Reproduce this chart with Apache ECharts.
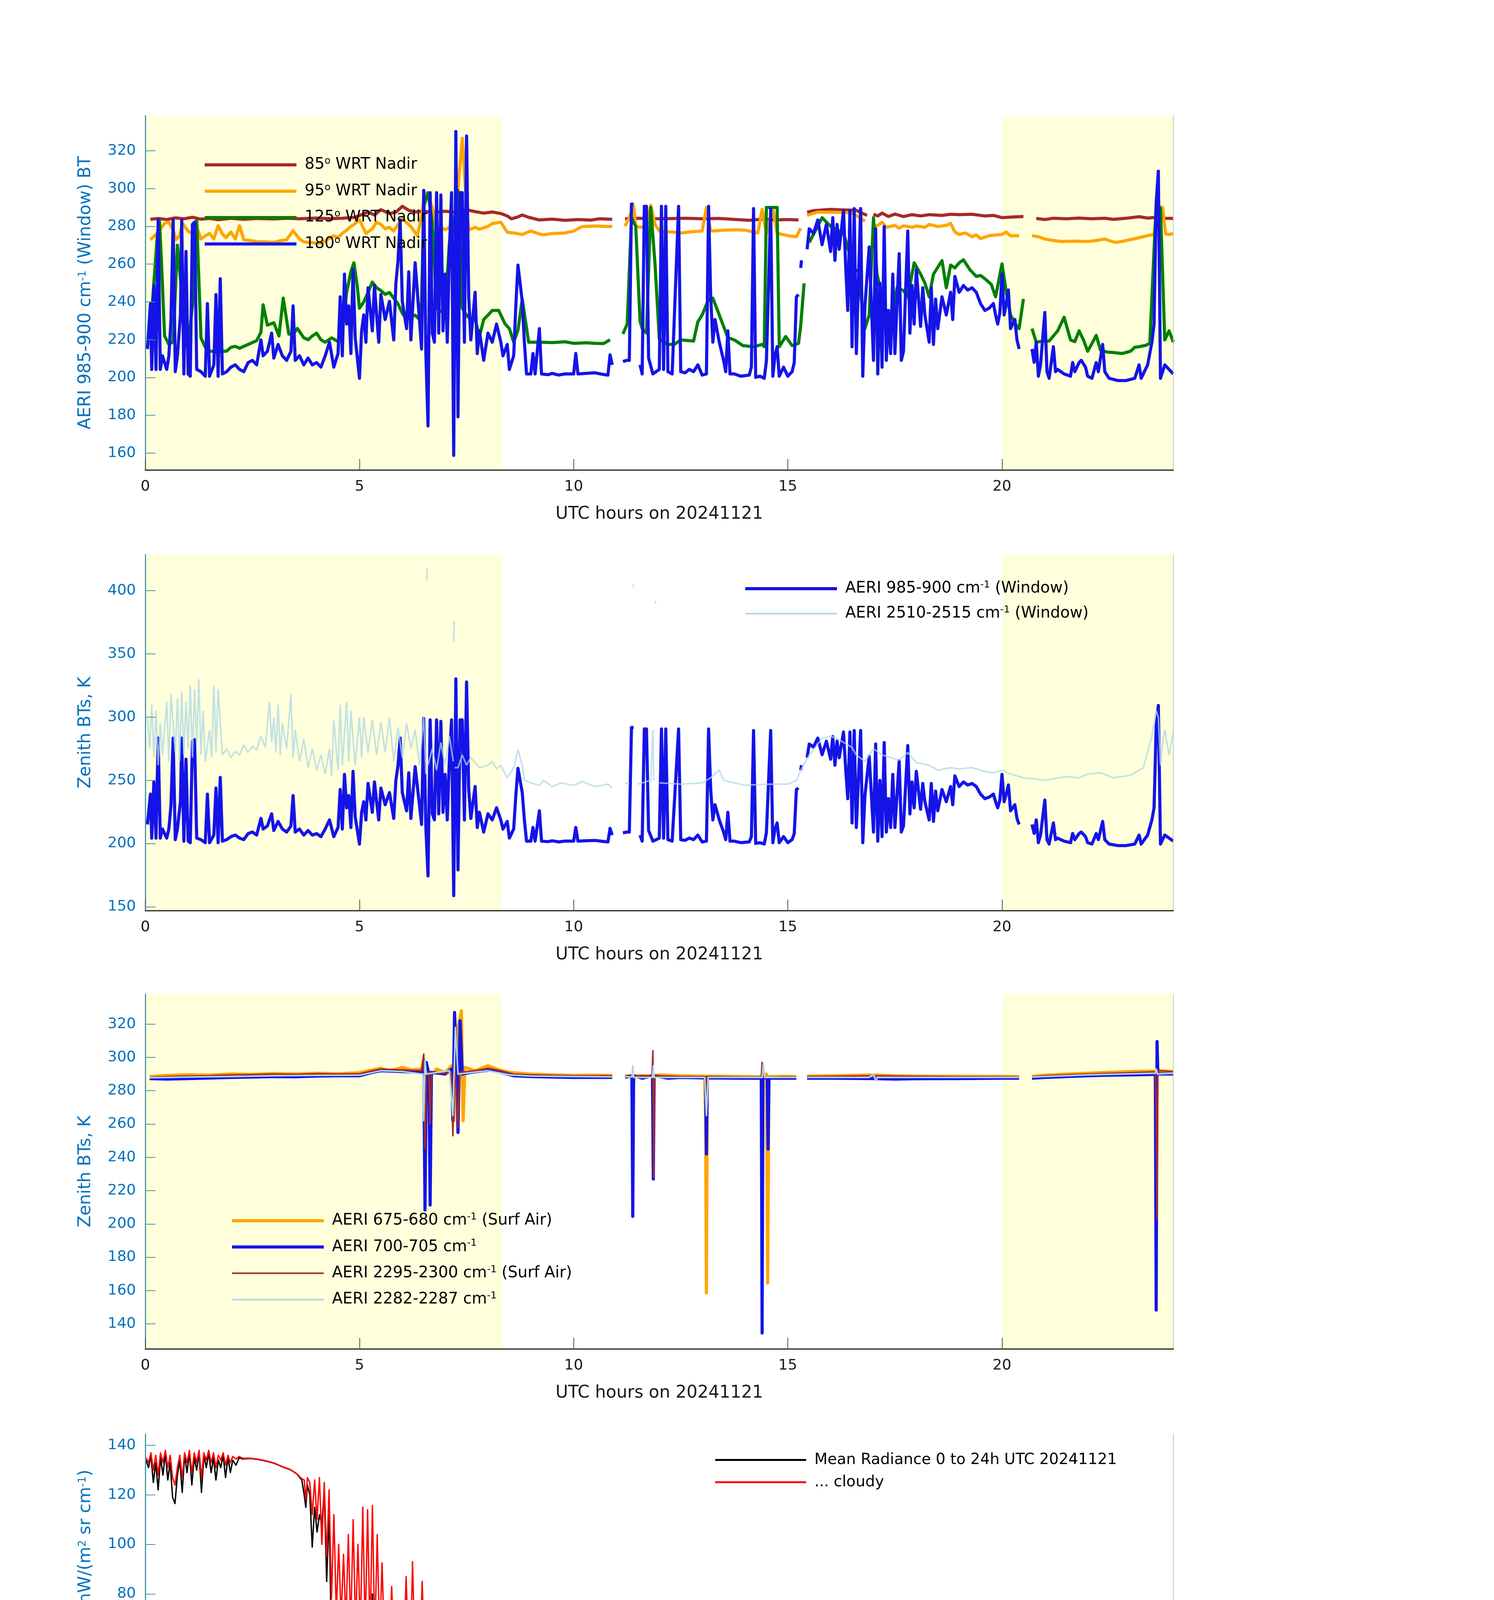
<!DOCTYPE html>
<html><head><meta charset="utf-8">
<script src="https://cdn.jsdelivr.net/npm/echarts@6/dist/echarts.min.js"></script>
<style>html,body{margin:0;padding:0;background:#fff}#c{width:3825px;height:6000px}</style>
</head><body><div id="c"></div>
<script>
// ---------------- DATA ----------------
const daylightSpans = [[0, 8.33], [20, 24]];

// Panel 1 (UTC hour, BT K) ; null = gap
const brown85 = [[0.12,283.7],[0.3,284.2],[0.5,283.6],[0.7,284.5],[0.9,284],[1.1,284.8],[1.3,283.8],[1.5,284.2],[1.7,283.5],[2.0,284.3],[2.3,283.7],[2.6,284.2],[3.0,283.9],[3.3,284.3],[3.6,284.0],[4.0,284.4],[4.3,284.1],[4.6,284.3],[4.9,284.8],[5.2,287.6],[5.35,286],[5.5,288.8],[5.7,286.8],[5.85,287.5],[6.0,290.6],[6.15,288.5],[6.3,287.6],[6.5,288],[6.7,287.3],[7.0,288],[7.2,287.5],[7.5,288.8],[7.7,287.8],[7.9,287],[8.1,287.6],[8.3,286.8],[8.45,285.5],[8.55,284],[8.7,285],[8.8,286],[8.95,284.8],[9.2,283.4],[9.5,283.8],[9.8,283.2],[10.1,283.6],[10.4,283.3],[10.6,284],[10.9,283.7],[10.95,null],
[11.2,284],[11.5,284.3],[11.8,284],[12.2,284.1],[12.6,284.3],[13.0,284],[13.4,284.2],[13.8,283.6],[14.1,283.2],[14.4,283.8],[14.7,283.4],[15.0,283.6],[15.25,283.4],[15.3,null],
[15.45,287.5],[15.6,288.3],[16.0,289],[16.3,288.7],[16.6,288.5],[16.75,286.8],[16.85,285.8],[16.9,null],[17.0,286.4],[17.1,285.5],[17.2,287],[17.35,285.2],[17.5,286.5],[17.7,285.2],[17.9,286.2],[18.1,285.5],[18.3,286.2],[18.6,285.8],[18.8,286.4],[19.0,286.2],[19.3,286.4],[19.6,285.5],[19.8,285.8],[20.0,284.6],[20.2,284.9],[20.5,285.2],[20.55,null],
[20.8,284.2],[21.0,283.6],[21.2,284.3],[21.5,284],[21.8,284.4],[22.1,284],[22.4,284.3],[22.6,283.7],[22.9,284.3],[23.2,285.1],[23.4,284.4],[23.6,284.8],[23.8,284.3],[24.0,284.2]];

const orange95 = [[0.12,272.9],[0.3,276.9],[0.45,281.6],[0.55,282.2],[0.65,278],[0.72,273],[0.8,275],[0.87,281.5],[0.95,279],[1.0,277.5],[1.1,276],[1.2,279.9],[1.3,273.3],[1.4,275],[1.5,276.3],[1.6,273.3],[1.7,280.4],[1.8,276],[1.88,274],[2.0,277],[2.1,273.3],[2.2,280.4],[2.3,272.9],[2.45,272.5],[2.6,272],[2.8,271.8],[3.0,271.5],[3.15,272.4],[3.3,272.9],[3.45,277.7],[3.6,273.3],[3.7,271.8],[3.8,271.5],[4.0,271.2],[4.1,271],[4.25,273],[4.4,275],[4.5,274],[4.6,276.3],[4.7,278],[4.8,279.9],[4.9,281.5],[5.0,283.4],[5.15,276.3],[5.3,278.7],[5.4,282.2],[5.5,281],[5.6,278.7],[5.7,279.5],[5.8,277.5],[5.9,281],[6.0,284],[6.1,282],[6.2,279.9],[6.35,275.1],[6.45,285],[6.52,298],[6.6,296],[6.7,290],[6.8,278.7],[6.9,279.5],[7.0,278.2],[7.1,279.5],[7.2,278.7],[7.3,300],[7.4,326.6],[7.5,290],[7.55,278],[7.7,279.5],[7.8,278.5],[8.0,280],[8.1,281.5],[8.3,282.2],[8.45,276.9],[8.6,276.5],[8.8,275.7],[9.0,277.5],[9.2,276],[9.3,275.5],[9.5,276.2],[9.8,276.5],[10.0,277.5],[10.2,279.9],[10.5,280.2],[10.8,279.9],[10.9,280],[10.95,null],
[11.2,280],[11.3,285],[11.4,290.6],[11.45,280],[11.55,279.5],[11.7,280],[11.8,291.2],[11.9,281],[12.0,277.5],[12.3,277],[12.5,276.5],[12.8,277.2],[13.0,277.5],[13.1,290],[13.2,277.5],[13.5,278],[13.8,278.2],[14.0,278],[14.3,276.5],[14.4,289],[14.5,276],[14.65,289.4],[14.75,276.3],[15.0,275.1],[15.2,274.5],[15.3,279],[15.35,null],
[15.45,285.8],[15.7,287.6],[16.0,287.5],[16.3,287.4],[16.5,287],[16.65,285],[16.8,282.8],[16.9,null],[17.0,279.9],[17.1,280.5],[17.2,282.2],[17.3,279.5],[17.5,280.5],[17.6,279],[17.7,280.3],[17.9,279.5],[18.0,280.2],[18.2,279.5],[18.3,281],[18.5,279.9],[18.7,280.5],[18.8,281.6],[18.9,277],[19.0,275.7],[19.15,276.5],[19.3,274.5],[19.4,275.5],[19.5,273.5],[19.7,275.1],[19.9,275.5],[20.0,275.7],[20.1,277],[20.2,275],[20.4,275.1],[20.45,null],
[20.7,275.1],[20.85,274.5],[21.0,273.3],[21.2,272.5],[21.4,272],[21.7,272.2],[22.0,272],[22.2,272.5],[22.4,273.3],[22.5,272.5],[22.65,271.5],[22.8,272],[23.0,273],[23.2,274],[23.4,275.1],[23.55,275.7],[23.6,285],[23.65,290.6],[23.75,290],[23.82,276],[23.9,275.7],[24.0,276.2]];

const green125 = [[0.1,220],[0.2,250],[0.28,275],[0.33,283.4],[0.38,260],[0.45,222],[0.55,217.5],[0.65,219],[0.75,270],[0.85,245],[0.92,216],[1.0,217],[1.1,238],[1.2,283],[1.3,221],[1.4,216],[1.5,214],[1.7,213.6],[1.9,214],[2.0,216],[2.1,216.5],[2.2,215.5],[2.35,217],[2.5,218.5],[2.6,219.5],[2.7,224],[2.75,238.5],[2.85,227.7],[3.0,229],[3.12,222],[3.22,242],[3.35,223],[3.45,222.8],[3.55,226],[3.7,221],[3.8,220],[3.9,222],[4.0,223.5],[4.1,220],[4.2,218.7],[4.35,221],[4.5,219],[4.6,225],[4.7,245],[4.8,256],[4.87,260.7],[4.95,248],[5.0,236.7],[5.1,240],[5.2,245],[5.3,250.5],[5.4,247.5],[5.5,246],[5.6,244],[5.7,245],[5.8,242],[5.9,239],[6.0,234],[6.1,230.7],[6.2,232],[6.3,233],[6.4,230.7],[6.45,240],[6.5,290.6],[6.6,297.8],[6.7,282],[6.8,236.7],[6.9,235],[7.0,235.5],[7.1,271.5],[7.2,278.7],[7.3,299],[7.4,236.7],[7.5,233],[7.6,230.7],[7.7,231],[7.8,221.7],[7.9,230.7],[8.0,233],[8.1,235.5],[8.25,235.5],[8.4,228.3],[8.5,225.9],[8.6,218.7],[8.7,225],[8.8,241.4],[8.95,218.7],[9.2,218.7],[9.5,218.5],[9.8,218.9],[10.0,218.1],[10.3,218.4],[10.5,218.1],[10.7,218],[10.85,220],[10.9,null],
[11.15,223],[11.25,228.3],[11.35,284.4],[11.45,280],[11.55,230],[11.6,225.9],[11.7,223.5],[11.8,290],[11.9,260],[12.0,220.5],[12.2,217.5],[12.35,217.5],[12.5,219.9],[12.8,219.3],[12.9,229.5],[13.0,233.1],[13.15,241.4],[13.25,242],[13.4,233.1],[13.6,221.1],[13.75,219.9],[13.95,216.9],[14.2,216.3],[14.4,217.5],[14.45,216.3],[14.5,290],[14.75,290],[14.8,216.3],[14.95,221.7],[15.1,216.9],[15.25,218.1],[15.3,227.1],[15.38,249.9],[15.4,null],
[15.5,271.5],[15.65,278],[15.8,284.6],[16.0,280],[16.1,278.7],[16.3,276.3],[16.45,265],[16.55,255.9],[16.65,257],[16.72,240.3],[16.8,225.9],[16.9,233.1],[17.0,284.6],[17.08,255],[17.2,242.7],[17.4,227.1],[17.55,247.5],[17.7,246],[17.8,242.7],[17.95,260.7],[18.1,254.7],[18.2,250],[18.3,242.7],[18.4,254.7],[18.6,261.9],[18.7,247.5],[18.8,259.5],[18.9,258],[19.0,260.7],[19.1,262.3],[19.25,257.1],[19.4,253.5],[19.5,254],[19.6,252.3],[19.75,249.3],[19.85,242.7],[20.0,260.1],[20.1,245.1],[20.2,233.1],[20.35,227],[20.4,225.9],[20.5,241.6],[20.55,null],
[20.7,225.9],[20.8,218.7],[20.95,219.2],[21.1,219.3],[21.3,224.7],[21.45,231.9],[21.6,219.9],[21.7,219],[21.8,224.7],[21.9,220],[22.0,213.9],[22.1,218],[22.2,222.3],[22.3,214.5],[22.45,213.5],[22.6,213.2],[22.8,212.7],[22.9,213.3],[23.0,213.9],[23.1,216],[23.2,216.3],[23.35,217],[23.45,218],[23.5,242.7],[23.6,292],[23.7,289.4],[23.8,219.9],[23.9,224.7],[24.0,218.7]];

// 180 deg = window channel (also used in panel 2)
const blueWindow = [[0.05,215.1],[0.12,239.1],[0.15,204.3],[0.2,248.7],[0.25,204.3],[0.3,283.4],[0.35,204.3],[0.4,211.5],[0.5,204.3],[0.55,211.5],[0.6,230.7],[0.65,283.4],[0.7,203.1],[0.75,211.5],[0.82,233.1],[0.85,283.4],[0.9,201.9],[0.95,266.7],[1.0,201.9],[1.05,200.7],[1.1,281],[1.15,282.2],[1.2,204.3],[1.3,203.1],[1.4,200.7],[1.45,239.1],[1.5,200.7],[1.6,206.7],[1.65,243.9],[1.7,200.7],[1.75,252.3],[1.8,201.9],[1.9,203.1],[2.0,205.5],[2.1,206.7],[2.2,204.3],[2.3,203.1],[2.4,207.9],[2.5,209.1],[2.6,206.7],[2.7,219.9],[2.75,211.5],[2.85,213.9],[2.95,223.5],[3.0,210.3],[3.1,217.5],[3.2,211.5],[3.3,209.1],[3.4,213.9],[3.45,237.9],[3.5,209.1],[3.6,211.5],[3.7,206.7],[3.8,210.3],[3.9,206.7],[4.0,207.9],[4.1,205.5],[4.2,211.5],[4.3,218.7],[4.4,205.5],[4.5,212.7],[4.55,242.7],[4.6,211.5],[4.65,254.7],[4.7,228.3],[4.75,237.9],[4.8,212.7],[4.85,257.1],[4.9,221.1],[5.0,199.6],[5.05,224.7],[5.1,233.1],[5.15,218.7],[5.2,247.5],[5.3,224.7],[5.35,248.7],[5.4,233.1],[5.45,218.7],[5.5,243.9],[5.6,230.7],[5.7,240.3],[5.8,219.9],[5.85,249.9],[5.9,261.9],[5.95,283.4],[6.0,240.3],[6.1,225.9],[6.15,255.9],[6.2,219.9],[6.3,260.7],[6.4,230.7],[6.45,215.1],[6.5,299],[6.55,212.7],[6.6,174.4],[6.65,297.8],[6.7,223.5],[6.75,218.7],[6.8,297.8],[6.85,223.5],[6.9,296.6],[6.95,224.7],[7.0,254.7],[7.05,218.7],[7.1,267.9],[7.15,297.8],[7.2,158.8],[7.25,330.2],[7.3,179.2],[7.35,297.8],[7.4,297.8],[7.45,218.7],[7.5,327.8],[7.55,242.7],[7.6,219.9],[7.7,245.1],[7.75,212.7],[7.8,224.7],[7.9,209.1],[8.0,223.5],[8.1,218.7],[8.2,228.3],[8.3,218.7],[8.35,211.5],[8.45,217.5],[8.5,204.3],[8.6,211.5],[8.65,237.9],[8.7,259.5],[8.75,249.9],[8.8,240.3],[8.85,218.7],[8.9,201.9],[9.0,201.9],[9.05,212.7],[9.1,201.9],[9.2,225.9],[9.25,201.9],[9.4,201.5],[9.5,202.2],[9.65,201.3],[9.8,201.9],[10.0,201.9],[10.05,212.7],[10.1,201.9],[10.3,202.2],[10.5,202.5],[10.7,201.6],[10.8,201.3],[10.85,212],[10.9,206.7],[10.95,null],
[11.15,208.5],[11.25,209.1],[11.3,209.1],[11.35,291.8],[11.4,291.8],[11.45,null],[11.55,206.7],[11.6,201.9],[11.65,290.6],[11.7,290.6],[11.75,210.3],[11.85,201.9],[12.0,204.3],[12.05,290.6],[12.1,204.3],[12.15,290.6],[12.2,203.1],[12.3,201.9],[12.45,290.6],[12.5,203.1],[12.6,202.5],[12.7,204.3],[12.8,203.1],[12.9,206.7],[13.0,201.3],[13.1,201.9],[13.15,290.6],[13.2,242.7],[13.25,218.7],[13.3,230.7],[13.4,218.7],[13.5,209.1],[13.55,203.1],[13.6,224.7],[13.65,201.9],[13.75,201.9],[13.9,200.7],[14.1,201.3],[14.15,205.5],[14.2,289.4],[14.25,200.1],[14.35,200.7],[14.45,199.6],[14.5,208.7],[14.6,289.4],[14.65,200.7],[14.7,211.5],[14.75,216.3],[14.8,200.7],[14.9,205.5],[15.0,200.7],[15.1,203.1],[15.15,207.9],[15.2,242.7],[15.25,243.9],[15.28,null],[15.3,258],[15.32,262],[15.34,null],
[15.45,267.9],[15.5,278.7],[15.6,276.3],[15.7,283.4],[15.8,270.3],[15.9,281],[16.0,266.7],[16.05,284.6],[16.1,262],[16.15,281],[16.2,267.9],[16.3,288.2],[16.35,259.5],[16.4,235.5],[16.45,288.2],[16.5,216.3],[16.55,289.4],[16.6,212.7],[16.65,252.3],[16.7,289.4],[16.75,200.7],[16.8,237.9],[16.9,269.1],[17.0,209.1],[17.05,278.7],[17.1,201.9],[17.15,249.9],[17.2,205.5],[17.25,279.9],[17.3,209.1],[17.35,235.5],[17.4,212.7],[17.45,254.7],[17.5,212.7],[17.6,265.5],[17.65,209.1],[17.7,213.9],[17.8,277.5],[17.85,223.5],[17.9,248.7],[17.95,228.3],[18.0,257.1],[18.1,227.1],[18.15,247.5],[18.2,233.1],[18.3,218.7],[18.35,247.5],[18.4,217.5],[18.45,241.5],[18.5,225.9],[18.6,242.7],[18.7,233.1],[18.8,245.1],[18.85,230.7],[18.9,253.5],[19.0,245.1],[19.1,248.7],[19.2,246.3],[19.3,247.5],[19.4,245.1],[19.5,239.1],[19.6,235.5],[19.7,236.7],[19.8,239.1],[19.85,233.1],[19.9,228.3],[19.95,234.3],[20.0,254.7],[20.05,233.1],[20.1,239.1],[20.15,246.3],[20.2,225.9],[20.3,230.7],[20.35,219.9],[20.4,215.1],[20.45,null],
[20.7,215.1],[20.75,208.1],[20.8,218.7],[20.85,200.7],[20.9,206.7],[21.0,234.4],[21.05,203.1],[21.1,199.6],[21.2,216.3],[21.25,203.1],[21.3,204.3],[21.45,201.9],[21.6,200.7],[21.65,207.9],[21.7,203.1],[21.8,207.9],[21.85,209.1],[21.95,205.5],[22.0,200.7],[22.1,199.6],[22.2,207.9],[22.25,203.1],[22.35,217.5],[22.4,203.1],[22.5,199.6],[22.7,198.4],[22.9,198.4],[23.1,199.6],[23.2,206.7],[23.25,199.6],[23.4,206.7],[23.45,212.7],[23.5,218.7],[23.55,228.3],[23.6,292.4],[23.65,309.2],[23.7,199.6],[23.8,206.7],[23.9,204.3],[24.0,201.9]];

// Panel 2 : 2510-2515 window channel
const lightBlue2510 = [[0.05,300],[0.1,275],[0.15,310],[0.2,268],[0.25,305],[0.3,262],[0.35,295],[0.4,270],[0.5,312],[0.55,265],[0.6,318],[0.7,272],[0.75,315],[0.8,265],[0.85,320],[0.9,270],[0.95,312],[1.0,275],[1.05,325],[1.1,268],[1.15,322],[1.2,280],[1.25,330],[1.3,270],[1.35,305],[1.4,265],[1.5,290],[1.55,268],[1.6,325],[1.65,272],[1.7,322],[1.8,270],[1.9,275],[2.0,268],[2.1,273],[2.2,270],[2.3,278],[2.4,272],[2.5,277],[2.6,274],[2.7,285],[2.8,276],[2.9,312],[2.95,280],[3.0,300],[3.05,272],[3.1,310],[3.15,270],[3.2,295],[3.3,275],[3.4,318],[3.45,268],[3.5,290],[3.6,265],[3.7,283],[3.8,260],[3.9,275],[4.0,258],[4.1,270],[4.2,255],[4.3,275],[4.35,253],[4.4,298],[4.5,258],[4.55,310],[4.6,262],[4.7,312],[4.75,265],[4.8,305],[4.9,262],[5.0,300],[5.05,268],[5.1,300],[5.2,272],[5.3,298],[5.4,270],[5.5,296],[5.6,272],[5.7,300],[5.8,265],[5.9,292],[6.0,268],[6.1,295],[6.2,275],[6.3,290],[6.4,262],[6.5,300],[6.55,255],[6.56,null],[6.57,408],[6.58,418],[6.59,null],[6.6,262],[6.7,275],[6.8,258],[6.9,280],[7.0,262],[7.1,285],[7.19,265],[7.195,null],[7.2,360],[7.21,376],[7.215,null],[7.22,260],[7.3,260],[7.4,270],[7.5,262],[7.6,268],[7.8,260],[8.0,262],[8.1,265],[8.2,259],[8.3,262],[8.45,252],[8.6,260],[8.7,274],[8.8,262],[8.85,250],[9.0,248],[9.2,246],[9.3,250],[9.5,245],[9.7,248],[10.0,246],[10.2,249],[10.5,245],[10.8,247],[10.9,244],[10.95,null],
[11.2,248],[11.3,247],[11.35,null],[11.38,403],[11.4,405],[11.42,null],[11.5,247],[11.8,250],[11.85,290],[11.87,250],[11.88,null],[11.9,390],[11.92,392],[11.93,null],[12.0,248],[12.5,247],[13.0,248],[13.2,252],[13.4,258],[13.5,250],[14.0,246],[14.5,247],[15.0,247],[15.2,250],[15.3,258],[15.5,270],[15.8,283],[16.0,285],[16.2,282],[16.5,276],[16.6,270],[16.8,265],[17.0,275],[17.2,270],[17.4,268],[17.6,266],[17.8,272],[18.0,264],[18.3,262],[18.5,258],[18.8,260],[19.0,259],[19.3,260],[19.6,257],[19.8,256],[20.0,258],[20.2,255],[20.5,252],[20.8,251],[21.0,250],[21.5,253],[21.8,252],[22.0,255],[22.3,256],[22.6,252],[23.0,254],[23.3,260],[23.5,285],[23.6,305],[23.65,300],[23.7,262],[23.75,280],[23.8,290],[23.9,270],[24.0,288]];

// Panel 3 channels
const orange675 = [[0.1,288.5],[0.5,289.2],[1,289.6],[1.5,289.4],[2,290],[2.5,289.8],[3,290.3],[3.5,290],[4,290.5],[4.5,290.2],[5,290.8],[5.3,292.5],[5.5,293.5],[5.7,292],[6.0,294],[6.2,292.5],[6.45,293],[6.5,299],[6.53,262],[6.57,292],[6.7,290],[6.8,293],[7.0,291],[7.15,295],[7.2,262],[7.25,300],[7.3,318],[7.38,328],[7.42,262],[7.46,294],[7.7,292],[7.9,294],[8.0,295],[8.2,293],[8.5,291],[9,290],[9.5,289.5],[10,289.2],[10.5,289.3],[10.9,289.2],[10.95,null],[11.2,289],[11.38,289],[11.4,285],[11.42,289],[11.9,289],[12,289.5],[12.5,289],[13.06,288.8],[13.08,262],[13.1,158.6],[13.12,288.8],[14,288.5],[14.48,288.3],[14.5,290],[14.53,164.5],[14.56,288.5],[15,288.6],[15.2,288.5],[15.25,null],[15.45,288.8],[16,289],[16.5,289.2],[17,289.5],[17.5,289],[18,288.8],[19,288.7],[20,288.6],[20.4,288.5],[20.45,null],[20.7,288.6],[21,289.3],[21.5,290],[22,290.5],[22.5,291],[23,291.5],[23.58,291.8],[23.6,275],[23.62,292],[24,291.5]];
const blue700 = [[0.1,287.3],[0.5,287],[1,287.3],[1.5,287.6],[2,288],[2.5,288.2],[3,288.5],[3.5,288.4],[4,288.8],[4.5,289],[5,289],[5.3,291],[5.5,292],[6,291.5],[6.45,291],[6.5,296],[6.53,208.4],[6.56,297],[6.62,290],[6.65,211.4],[6.68,291],[7.0,290],[7.15,293],[7.18,262],[7.22,327],[7.26,300],[7.3,255],[7.35,322],[7.4,290],[7.6,291],[7.9,292],[8.1,292.5],[8.3,291],[8.6,289],[9,288.5],[9.5,288.2],[10,288],[10.5,288],[10.9,288],[10.95,null],[11.2,288],[11.36,289],[11.38,204.5],[11.4,289],[11.6,287.5],[11.84,289],[11.86,227],[11.88,289],[12.2,287.5],[12.5,288],[13.08,287.7],[13.1,242],[13.12,287.7],[14,287.5],[14.38,287.5],[14.4,134.5],[14.42,288],[14.52,287.5],[14.54,245],[14.56,287.5],[15,287.5],[15.2,287.5],[15.25,null],[15.45,287.5],[16,287.5],[17,287.3],[17.5,287],[18,287.2],[19,287.3],[20,287.5],[20.4,287.5],[20.45,null],[20.7,287.5],[21,288],[21.5,288.5],[22,289],[22.5,289.3],[23,289.5],[23.58,289.8],[23.6,148.3],[23.62,309.5],[23.64,290],[24,290]];
const brown2295 = [[0.1,288],[0.5,288.5],[1,288.8],[1.5,289],[2,289.5],[2.5,289.7],[3,290],[3.5,289.8],[4,290.2],[4.5,290],[5,290.2],[5.3,292],[5.5,293],[6,292.5],[6.45,292],[6.5,302],[6.53,245.4],[6.56,291],[6.62,291],[6.65,260],[6.68,291],[7.0,290.5],[7.15,291],[7.18,253],[7.22,300],[7.3,258],[7.34,291],[7.7,292],[8,293.5],[8.3,292],[8.6,290],[9,289.5],[10,289],[10.9,289],[10.95,null],[11.2,288.5],[11.4,289],[11.83,289],[11.85,304],[11.87,228],[11.89,289],[12.5,288.5],[13.08,288.4],[13.1,275],[13.12,288.5],[14,288.2],[14.38,288.2],[14.4,297],[14.42,288],[15,288.3],[15.2,288.2],[15.25,null],[15.45,288.5],[16,288.6],[17,289],[18,288.6],[19,288.4],[20,288.3],[20.4,288.2],[20.45,null],[20.7,288.4],[21,289],[22,290],[23,290.8],[23.58,291.3],[23.6,270],[23.62,203],[23.64,292],[24,291.5]];
const lightBlue2282 = [[0.1,287.8],[0.5,288],[1,288.2],[2,288.5],[3,289],[4,289.2],[5,289.3],[5.5,292],[6,291.5],[6.48,290],[6.5,262],[6.53,298],[6.56,290],[7.1,292],[7.18,265],[7.24,318],[7.3,290],[8,292],[8.5,289.5],[9,288.8],[10,288.5],[10.9,288.3],[10.95,null],[11.2,288.3],[11.36,288.3],[11.38,295],[11.4,288],[11.84,288],[11.86,295],[11.88,288],[13.06,288],[13.1,265],[13.14,288],[14.4,288],[14.43,296],[14.46,288],[15.2,288],[15.25,null],[15.45,288],[16.9,288],[17.0,290],[17.05,286],[17.1,288],[18,288],[20.4,288],[20.45,null],[20.7,288.2],[22,289.5],[23.58,290.5],[23.6,293],[23.63,290],[24,290.5]];

// Panel 4 spectra (wavenumber cm-1, radiance)
const meanRad4 = [[520,134],[523,131],[526,136],[529,125],[532,133],[535,122],[538,135],[541,128],[544,137],[547,126],[550,133],[553,119],[556,116.5],[559,128],[562,134],[565,121],[568,136],[571,129],[574,137],[577,124],[580,135],[583,130],[586,137],[589,121],[592,136],[595,131],[598,137],[601,129],[604,135],[607,126],[610,134],[613,131],[616,136],[619,127],[622,135],[625,129],[628,134],[632,132],[636,135],[640,134.5],[650,134.7],[660,134.3],[670,133.6],[680,132.7],[690,131.3],[700,130.1],[708,128.4],[714,126],[717,120],[719,115],[721,124],[724,120],[727,98.9],[730,115],[733,105],[736,112],[739,108],[742,122],[745,85],[748,113],[751,60],[754,72],[757,55],[760,65],[763,48],[766,66],[769,50],[772,70],[775,49],[778,68],[781,50],[784,72],[787,48],[790,77],[793,55],[796,70],[799,47],[802,80],[805,45],[808,52],[811,42],[814,73],[817,44],[820,40],[823,58],[826,41],[829,65],[832,38],[835,52],[838,37],[841,45],[844,36],[847,55],[850,35],[853,62],[856,34],[860,44],[864,33],[868,58],[872,32.5],[876,40],[880,32],[884,45],[888,31],[892,50],[896,30],[900,37],[904,29.5],[908,45],[912,29],[916,34],[920,28],[925,40],[930,27.5],[935,33],[940,26.5],[945,30],[950,25],[955,35],[960,24.2],[965,28],[970,23],[975,33],[980,22],[985,24],[990,21.8],[995,23.5],[1000,22.5],[1005,24],[1010,23],[1015,26],[1020,27],[1025,29],[1030,28],[1035,31],[1040,40],[1045,32],[1050,38],[1055,39],[1060,33],[1065,36],[1070,20],[1073,16],[1076,25],[1080,15],[1085,30],[1088,16],[1092,14.5],[1096,22],[1100,35],[1103,15],[1107,14.2],[1111,24],[1115,15],[1119,14.5],[1123,20],[1127,15],[1131,30],[1134,14.5],[1138,16],[1142,14.2],[1146,22],[1150,15],[1154,14.5],[1158,25],[1162,15],[1166,14],[1170,20],[1173,36],[1176,15],[1180,14.5],[1184,27],[1188,15],[1192,14],[1196,35],[1200,15.5],[1204,14],[1208,24],[1212,15],[1216,13.5],[1220,17],[1223,30],[1226,14],[1230,20],[1233,13],[1236,12.5],[1238,25],[1240,12.6],[1243,20],[1247,18],[1250,30],[1254,19.5],[1258,33],[1262,35],[1266,38],[1270,32],[1274,40],[1278,28],[1282,36],[1286,32],[1290,37],[1294,27],[1298,36],[1302,31],[1306,38],[1310,30],[1314,35],[1318,32],[1322,36],[1326,27],[1330,35],[1334,26],[1338,35],[1345,35.5],[1360,34.8],[1380,33.6],[1400,32.5],[1420,31.4],[1440,30.4],[1460,29.5],[1480,28.2],[1500,26.8],[1510,25.9],[1511,23.5],[1513,25.8],[1530,24.6],[1545,23.3],[1546,20.5],[1548,23.1],[1560,21.7],[1580,19.8],[1600,18],[1620,16.4],[1640,15],[1650,14.4],[1651,12],[1653,14.3],[1660,13.9],[1661,11.5],[1663,13.8],[1680,12.9],[1681,10.5],[1683,12.8],[1700,12],[1701,9.7],[1703,11.9],[1720,11],[1721,9],[1723,10.9],[1740,10.2],[1741,8.3],[1743,10.1],[1760,9.6],[1761,7.2],[1763,9.5],[1780,8.9],[1790,8.6],[1791,7],[1793,8.5],[1800,8.4]];
const cloudyRad4 = [[520,135],[523,133],[526,137],[529,130],[532,136],[535,128],[538,137],[541,133],[544,138],[547,131],[550,136],[553,127],[556,124],[559,131],[562,136],[565,127],[568,137],[571,133],[574,138],[577,129],[580,137],[583,133],[586,138],[589,127],[592,137],[595,134],[598,138],[601,133],[604,137],[607,131],[610,136],[613,134],[616,137],[619,132],[622,136],[625,133],[628,135.5],[632,134.5],[636,135.5],[640,134.8],[650,134.8],[660,134.4],[670,133.7],[680,132.8],[690,131.4],[700,130.2],[708,128.5],[714,126.5],[717,126],[719,118],[721,127],[724,125],[727,112],[730,126],[733,110],[736,127],[739,100],[742,125],[745,95],[748,122],[751,78],[754,112],[757,72],[760,100],[763,70],[766,96],[769,68],[772,104],[775,66],[778,110],[781,66],[784,100],[787,64],[790,115],[793,64],[796,114],[799,63],[802,115.7],[805,62],[808,104],[811,61],[814,92.5],[817,60],[820,70],[823,59],[826,83],[829,58],[832,75],[835,57.5],[838,66],[841,56.5],[844,87],[847,56],[850,65],[852,93],[855,55],[858,70],[861,54],[864,85],[867,53],[869,76],[872,52],[876,62],[880,51],[884,73],[888,50],[892,60],[896,48.5],[900,77],[904,47.5],[908,73],[912,46.5],[916,56],[920,45.5],[925,68],[930,44],[935,52],[940,42],[945,46],[948,62],[952,41],[956,44],[960,39],[965,46],[970,37],[975,43],[980,34],[985,33],[990,34],[995,33.5],[1000,35],[1005,34],[1010,38],[1015,59],[1018,36],[1022,39],[1026,41],[1030,55],[1034,38],[1038,40],[1042,45],[1046,39],[1050,44],[1054,40],[1058,38],[1062,58],[1066,32],[1070,29],[1074,26.5],[1078,27],[1082,40],[1085,55],[1088,26],[1092,25],[1095,47],[1098,25],[1102,35],[1105,52],[1108,24.5],[1112,25],[1115,40],[1118,49],[1121,24],[1125,26],[1130,44],[1133,24],[1136,60],[1139,24],[1143,30],[1147,25],[1150,51],[1153,24],[1157,35],[1160,46],[1163,24],[1167,28],[1172,55],[1175,24],[1180,55],[1183,23.5],[1187,38],[1191,24],[1195,52],[1198,23],[1202,30],[1206,22],[1210,46],[1213,22],[1217,36],[1222,51],[1225,21.5],[1230,51],[1233,21],[1236,35],[1238,20.5],[1241,40],[1244,47],[1247,36],[1250,42],[1254,38],[1258,44],[1262,40],[1266,43],[1270,39],[1274,41],[1278,37],[1282,42],[1286,38],[1290,40],[1294,36],[1298,41],[1302,38],[1306,40],[1310,37],[1314,39],[1318,38],[1322,40],[1326,36],[1330,39],[1334,36],[1338,37],[1345,35.7],[1360,35],[1380,33.8],[1400,32.7],[1418,31.7],[1419,37.5],[1421,31.6],[1440,30.6],[1457,29.8],[1458,31],[1460,29.7],[1480,28.4],[1500,27],[1508,26.5],[1509,29.5],[1511,26.4],[1520,25.6],[1521,29],[1523,25.5],[1539,23.9],[1540,27],[1542,23.7],[1560,21.9],[1561,27.3],[1563,21.6],[1580,20],[1600,18.2],[1615,17],[1616,25],[1618,16.8],[1635,15.5],[1636,24.4],[1638,15.4],[1650,14.6],[1651,24.7],[1653,14.5],[1673,13.5],[1674,21],[1676,13.4],[1694,12.4],[1695,21],[1697,12.3],[1716,11.4],[1717,18.4],[1719,11.3],[1734,10.6],[1735,13.2],[1737,10.5],[1760,9.8],[1780,9.1],[1800,8.5]];

// Panel 5 spectra
const meanRad5 = [[1800,9.3],[1803,8.9],[1806,9.1],[1810,8.7],[1814,9.0],[1818,8.5],[1822,8.7],[1826,8.2],[1830,8.5],[1834,8.1],[1838,8.4],[1842,7.9],[1846,8.2],[1850,7.9],[1854,7.7],[1858,7.9],[1862,7.5],[1866,7.3],[1870,7.5],[1874,7.0],[1878,7.3],[1882,6.7],[1886,6.1],[1889,6.9],[1892,6.6],[1895,6.8],[1898,6.4],[1901,5.3],[1904,6.1],[1908,6.3],[1912,5.9],[1916,6.2],[1920,5.8],[1924,6.0],[1928,5.3],[1932,4.3],[1935,5.5],[1938,5.6],[1942,4.6],[1946,5.2],[1950,5.0],[1954,3.4],[1957,5.0],[1961,3.8],[1964,4.9],[1968,4.3],[1972,2.9],[1975,4.6],[1979,3.0],[1982,3.5],[1985,2.2],[1988,4.2],[1991,2.6],[1995,3.6],[1998,2.4],[2002,3.8],[2005,2.0],[2009,3.5],[2012,2.2],[2016,3.2],[2019,1.9],[2023,3.0],[2026,1.7],[2030,2.8],[2034,1.35],[2037,2.6],[2041,1.45],[2044,2.9],[2048,1.5],[2052,2.4],[2055,1.3],[2059,2.2],[2062,1.4],[2066,2.5],[2070,1.15],[2074,2.0],[2078,1.05],[2082,1.8],[2086,0.95],[2090,1.9],[2094,0.9],[2098,1.6],[2102,0.85],[2106,1.4],[2110,0.8],[2114,1.5],[2118,0.82],[2122,1.2],[2126,0.78],[2130,1.3],[2134,0.76],[2138,1.1],[2142,0.75],[2146,1.0],[2150,0.76],[2155,1.1],[2160,0.78],[2165,1.0],[2170,0.85],[2175,1.2],[2180,1.0],[2185,1.3],[2190,1.25],[2195,1.55],[2200,1.5],[2205,1.7],[2210,1.65],[2215,1.8],[2220,1.6],[2223,1.3],[2226,1.7],[2230,1.85],[2236,1.92],[2245,1.88],[2260,1.82],[2280,1.74],[2300,1.64],[2320,1.53],[2340,1.4],[2360,1.32],[2380,1.18],[2388,1.1],[2392,0.95],[2396,0.6],[2400,0.3],[2404,0.05],[2408,0.3],[2412,-0.1],[2416,0.25],[2420,-0.2],[2424,0.15],[2428,-0.3],[2432,-0.86],[2436,0.05],[2440,-0.1],[2444,0.3],[2448,-0.25],[2452,0.1],[2456,-0.35],[2460,0.15],[2464,-0.2],[2468,0.2],[2472,-0.3],[2476,0.1],[2480,-0.15],[2484,0.25],[2488,-0.1],[2492,0.2],[2496,-0.05],[2500,0.15],[2505,-0.1],[2510,0.2],[2515,0.0],[2520,0.25],[2525,-0.05],[2530,0.2],[2535,0.05],[2540,0.22],[2545,-0.2],[2550,0.2],[2555,-0.4],[2560,0.15],[2565,0.05],[2570,0.22],[2575,-0.25],[2580,0.2],[2585,0.1],[2590,0.22],[2600,0.18],[2610,0.2],[2620,0.15],[2630,0.22],[2640,0.2],[2650,0.24],[2660,0.2],[2670,0.25],[2680,0.22],[2700,0.24],[2720,0.25],[2740,0.24],[2750,0.26],[2751,-0.1],[2753,0.25],[2770,0.24],[2800,0.23],[2830,0.22],[2860,0.2],[2900,0.18],[2930,0.16],[2960,0.14],[2990,0.11],[3020,0.09]];
const cloudyRad5 = [[1800,9.86],[1802,9.3],[1806,9.1],[1810,8.8],[1814,9.0],[1818,8.6],[1822,8.7],[1826,8.3],[1830,8.5],[1834,8.2],[1838,8.4],[1842,8.0],[1846,8.2],[1850,8.0],[1854,7.8],[1858,7.9],[1862,7.6],[1866,7.4],[1870,7.5],[1874,7.1],[1878,7.3],[1882,6.8],[1886,6.4],[1889,6.9],[1892,6.7],[1895,6.8],[1898,6.5],[1901,5.6],[1904,6.2],[1908,6.35],[1912,6.0],[1916,6.25],[1920,5.9],[1924,6.1],[1928,5.5],[1932,4.6],[1935,5.6],[1938,5.7],[1942,4.9],[1946,5.4],[1950,5.2],[1954,3.7],[1957,5.3],[1961,4.0],[1964,5.2],[1968,4.5],[1972,3.2],[1975,4.8],[1979,3.4],[1982,4.0],[1985,2.6],[1988,4.8],[1991,3.0],[1995,4.2],[1998,2.9],[2001,4.7],[2005,2.5],[2008,4.4],[2012,2.7],[2016,3.9],[2019,2.4],[2022,4.35],[2026,2.2],[2030,3.9],[2034,1.8],[2037,3.4],[2041,2.0],[2045,4.0],[2048,2.0],[2052,3.0],[2055,1.8],[2059,3.65],[2062,1.9],[2066,2.9],[2070,1.6],[2072,3.4],[2076,1.6],[2080,2.8],[2084,1.5],[2088,3.4],[2092,1.45],[2096,2.4],[2100,1.4],[2104,2.7],[2108,1.35],[2112,2.2],[2115,2.9],[2118,1.3],[2122,2.0],[2126,1.3],[2130,2.3],[2134,1.3],[2138,1.8],[2142,1.28],[2145,2.3],[2150,1.3],[2155,1.7],[2160,1.3],[2165,1.9],[2170,1.35],[2175,1.7],[2180,1.5],[2185,1.8],[2190,1.7],[2193,2.0],[2197,1.75],[2202,1.95],[2206,1.8],[2210,1.9],[2215,1.85],[2220,1.65],[2223,1.35],[2226,1.75],[2230,1.88],[2236,1.95],[2245,1.9],[2260,1.84],[2280,1.75],[2300,1.65],[2320,1.54],[2340,1.42],[2360,1.33],[2380,1.2],[2388,1.12],[2392,1.0],[2396,0.7],[2400,0.55],[2404,0.9],[2407,0.3],[2410,0.8],[2413,0.2],[2416,0.7],[2420,-0.58],[2423,0.6],[2426,0.1],[2430,0.9],[2433,-0.1],[2436,0.7],[2440,0.2],[2443,2.08],[2446,0.3],[2450,0.8],[2453,0.0],[2456,1.0],[2460,0.2],[2464,0.7],[2467,0.1],[2470,1.6],[2473,0.3],[2477,0.8],[2480,0.2],[2483,0.7],[2486,2.46],[2489,0.3],[2492,0.7],[2496,0.2],[2500,1.03],[2504,0.3],[2508,0.7],[2512,0.25],[2516,0.65],[2520,0.3],[2525,0.7],[2530,0.3],[2535,0.75],[2540,0.35],[2545,0.6],[2550,0.3],[2555,0.7],[2560,0.4],[2565,0.6],[2570,0.35],[2575,-0.82],[2578,0.5],[2582,0.65],[2586,0.4],[2590,0.6],[2595,0.45],[2600,0.56],[2610,0.5],[2620,0.6],[2630,0.48],[2640,0.58],[2650,0.5],[2660,0.6],[2670,0.52],[2680,0.58],[2690,0.5],[2700,0.56],[2710,0.55],[2720,0.48],[2730,0.58],[2740,0.5],[2750,0.52],[2760,0.47],[2770,0.5],[2780,0.45],[2800,0.42],[2820,0.4],[2840,0.36],[2860,0.33],[2880,0.3],[2900,0.24],[2920,0.22],[2940,0.2],[2960,0.17],[2980,0.15],[3000,0.13],[3020,0.1]];

// Series names / axis titles
const names1 = ['85° WRT Nadir', '95° WRT Nadir', '125° WRT Nadir', '180° WRT Nadir'];
const names2 = ['AERI 985-900 cm-1 (Window)', 'AERI 2510-2515 cm-1 (Window)'];
const names3 = ['AERI 675-680 cm-1 (Surf Air)', 'AERI 700-705 cm-1', 'AERI 2295-2300 cm-1 (Surf Air)', 'AERI 2282-2287 cm-1'];
const namesSpec = ['Mean Radiance 0 to 24h UTC 20241121', '... cloudy'];

// ---------------- CHART ----------------
const FONT = 'DejaVu Sans';
const AXBLUE = '#0072BD';
const sup = s => s.replace(/cm-1/g, 'cm{sup|-1}').replace(/m2 /g, 'm{sup|2} ').replace(/(\d+)° /, '$1{sup|o} ');
const pairs = a => a.map(p => [p[0], p[1] === null ? '-' : p[1]]);
const plain = v => String(Math.round(v * 1000) / 1000);

const LEFT = 372, WIDTH = 2632;
const grids = [
  {top: 296, height: 907},
  {top: 1420, height: 911},
  {top: 2545, height: 908},
  {top: 3671, height: 906},
  {top: 4796, height: 908}
].map(g => ({left: LEFT, width: WIDTH, top: g.top, height: g.height, show: false, containLabel: false}));

const supRich = (fs, color) => ({sup: {fontSize: Math.round(fs * 0.62), fontFamily: FONT, color: color, verticalAlign: 'top', lineHeight: Math.round(fs * 0.7)}});

function xAx(i, min, max, step, name, showMin, showMax, gap) {
  return {
    type: 'value', gridIndex: i, min: min, max: max, minInterval: step, maxInterval: step, splitNumber: 6, z: 5,
    axisLine: {show: true, onZero: false, lineStyle: {color: '#262626', width: 3}},
    axisTick: {show: true, inside: true, length: 28, lineStyle: {color: '#555', width: 2}},
    axisLabel: {color: '#1a1a1a', fontSize: 38, fontFamily: FONT, margin: 24, showMinLabel: showMin, showMaxLabel: showMax, formatter: plain},
    splitLine: {show: false},
    name: sup(name), nameLocation: 'middle', nameGap: gap,
    nameTextStyle: {color: '#1a1a1a', fontSize: 44, fontFamily: FONT, rich: supRich(44, '#1a1a1a')}
  };
}
function yAx(i, min, max, step, name, gap) {
  return {
    type: 'value', gridIndex: i, min: min, max: max, minInterval: step, maxInterval: step, splitNumber: 8, z: 5,
    axisLine: {show: true, onZero: false, lineStyle: {color: '#4a93a6', width: 3}},
    axisTick: {show: true, inside: true, length: 26, lineStyle: {color: '#4a93a6', width: 2}},
    axisLabel: {color: AXBLUE, fontSize: 38, fontFamily: FONT, margin: 24, showMinLabel: false, showMaxLabel: false, formatter: plain},
    splitLine: {show: false},
    name: sup(name), nameLocation: 'middle', nameGap: gap, nameRotate: 90,
    nameTextStyle: {color: AXBLUE, fontSize: 44, fontFamily: FONT, rich: supRich(44, AXBLUE)}
  };
}
function yRight(i, min, max) {
  return {type: 'value', gridIndex: i, position: 'right', min: min, max: max, z: 5,
    axisLine: {show: true, onZero: false, lineStyle: {color: '#b9cdc2', width: 2}},
    axisTick: {show: false}, axisLabel: {show: false}, splitLine: {show: false}};
}

const yRanges = [[151.1, 338.6, 20], [147, 428.5, 50], [125, 338, 20], [1.6, 144.6, 20], [-1.34, 10.41, 2]];

const xAxes = [
  xAx(0, 0, 24, 5, 'UTC hours on 20241121', true, false, 92),
  xAx(1, 0, 24, 5, 'UTC hours on 20241121', true, false, 92),
  xAx(2, 0, 24, 5, 'UTC hours on 20241121', true, false, 92),
  xAx(3, 519, 1800, 200, 'Wavenumber, cm-1', false, true, 92),
  xAx(4, 1800, 3020, 200, 'Wavenumber, cm-1', true, false, 92)
];
const yTitles = ['AERI 985-900 cm-1 (Window) BT', 'Zenith BTs, K', 'Zenith BTs, K', 'Mean Radiance, mW/(m2 sr cm-1)', 'Mean Radiance, mW/(m2 sr cm-1)'];
const yGaps = [130, 130, 130, 130, 104];
const yAxes = [];
for (let i = 0; i < 5; i++) yAxes.push(yAx(i, yRanges[i][0], yRanges[i][1], yRanges[i][2], yTitles[i], yGaps[i]));
for (let i = 0; i < 5; i++) yAxes.push(yRight(i, yRanges[i][0], yRanges[i][1]));

const shade = {silent: true, itemStyle: {color: '#FFFFDC', opacity: 1}, label: {show: false},
  data: daylightSpans.map(s => [{xAxis: s[0]}, {xAxis: s[1]}])};

function line(name, gi, data, color, width, extra) {
  return Object.assign({
    name: name, type: 'line', xAxisIndex: gi, yAxisIndex: gi, data: pairs(data),
    symbol: 'none', showSymbol: false, smooth: false, connectNulls: false, animation: false, clip: true,
    itemStyle: {color: color}, lineStyle: {color: color, width: width, join: 'round'}, emphasis: {disabled: true}
  }, extra || {});
}

const BLUE = '#1414E8';
const series = [
  line(names1[0], 0, brown85, '#A52A2A', 8, {markArea: shade}),
  line(names1[1], 0, orange95, '#FFA500', 8),
  line(names1[2], 0, green125, '#008000', 8),
  line(names1[3], 0, blueWindow, BLUE, 8),
  line(names2[0], 1, blueWindow, BLUE, 8, {markArea: shade}),
  line(names2[1], 1, lightBlue2510, '#ADD8E6', 4, {lineStyle: {color: 'rgba(173,216,230,0.75)', width: 4}}),
  line(names3[0], 2, orange675, '#FFA500', 8, {markArea: shade}),
  line(names3[1], 2, blue700, BLUE, 8),
  line(names3[2], 2, brown2295, '#A52A2A', 4),
  line(names3[3], 2, lightBlue2282, '#ADD8E6', 4),
  line(namesSpec[0], 3, meanRad4, '#000000', 3.5),
  line(namesSpec[1], 3, cloudyRad4, '#FF0000', 3.5),
  line(namesSpec[0], 4, meanRad5, '#000000', 3.5),
  line(namesSpec[1], 4, cloudyRad5, '#FF0000', 3.5)
];

// legend sample: a bar of thickness t centred in a w x h box
const barIcon = (w, h, t) => 'path://M0,0 M' + w + ',' + h + ' M0,' + ((h - t) / 2) + ' L' + w + ',' + ((h - t) / 2) + ' L' + w + ',' + ((h + t) / 2) + ' L0,' + ((h + t) / 2) + ' Z';

function legend(left, top, names, widths, fs, rowH, itemW) {
  const ih = fs + 4;
  return {
    show: true, orient: 'vertical', left: left, top: top, itemWidth: itemW, itemHeight: ih,
    itemGap: rowH - ih, selectedMode: false, padding: 0, symbolKeepAspect: false,
    data: names.map((n, k) => ({name: n, icon: barIcon(itemW, ih, widths[k])})),
    formatter: n => sup(n),
    textStyle: {fontSize: fs, fontFamily: FONT, color: '#000', lineHeight: ih, padding: [0, 0, 0, 16], rich: supRich(fs, '#000')}
  };
}

const option = {
  backgroundColor: '#ffffff',
  animation: false,
  grid: grids,
  xAxis: xAxes,
  yAxis: yAxes,
  legend: [
    legend(524, 400, names1, [8, 8, 8, 8], 40, 67.5, 235),
    legend(1908, 1485, names2, [8, 4], 40, 64, 235),
    legend(594, 3103, names3, [8, 8, 4, 4], 40, 67.3, 235),
    legend(1831, 3716, namesSpec, [5, 5], 39, 57, 233),
    legend(1831, 4840, namesSpec, [5, 5], 39, 58, 233)
  ],
  series: series
};

const chart = echarts.init(document.getElementById('c'), null, {renderer: 'canvas', width: 3825, height: 6000});
chart.setOption(option);
</script></body></html>
